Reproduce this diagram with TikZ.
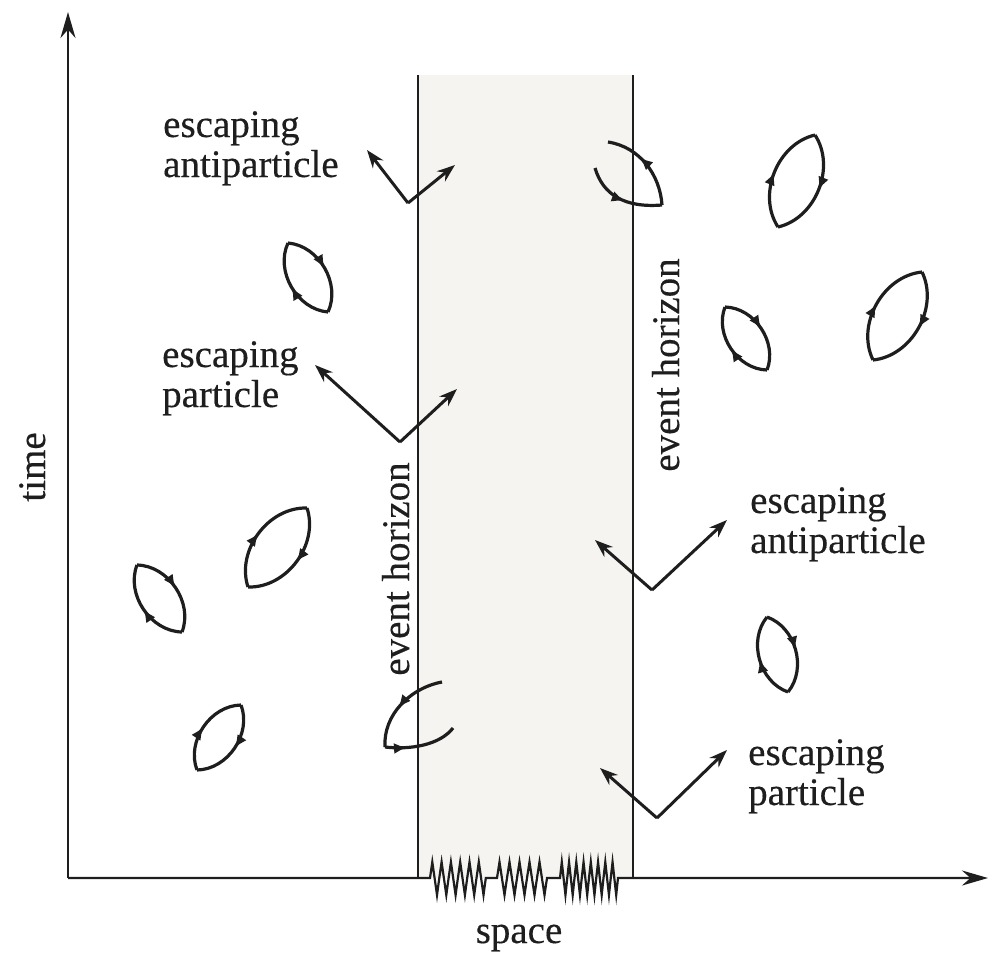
\documentclass[tikz,border=0pt]{standalone}
\usepackage{fontspec}
\setmainfont{Liberation Serif}[FakeBold=0.35]
\usetikzlibrary{arrows.meta,decorations.markings}
\definecolor{inkc}{RGB}{30,30,30}
\definecolor{bhfill}{RGB}{246,244,241}
\newcommand\vloop[3][55]{%
  \draw[looparc] (#2) to[bend left=#1] (#3);
  \draw[looparc] (#3) to[bend left=#1] (#2);}
\begin{document}
\begin{tikzpicture}[x=1pt,y=-1pt,
  lbl/.style={font=\fontsize{39}{40}\selectfont, text=inkc, inner sep=0pt},
  axisln/.style={draw=inkc, line width=2.2pt, -{Stealth[length=26pt,width=15pt]}},
  horizonln/.style={draw=inkc, line width=2.1pt},
  pairln/.style={draw=inkc, line width=3pt, -{Stealth[length=18pt,width=13pt]}},
  looparc/.style={draw=inkc, line width=3.2pt, postaction={decorate},
    decoration={markings, mark=at position #1 with {\arrow{Latex[length=13pt,width=11pt]}}}},
  looparc/.default=0.5]
\useasboundingbox (0,0) rectangle (990,954);
% black hole region
\fill[bhfill] (418,75) rectangle (633,878);
\coordinate (hlt) at (418,75);  \coordinate (hlb) at (418,878);
\coordinate (hrt) at (633,75);  \coordinate (hrb) at (633,878);
\draw[horizonln] (hlt) -- (hlb);
\draw[horizonln] (hrt) -- (hrb);
% axes
\coordinate (O) at (68,878);
\coordinate (ytip) at (68,12);
\coordinate (xtip) at (988,878);
\draw[axisln] (O) -- (ytip);
\draw[axisln] (O) -- (430,878)
  \foreach \i in {1,...,6} { -- ++(2.3,-16) -- ++(4.7,33) -- ++(2.3,-17) }
  -- (497,878)
  \foreach \i in {1,...,5} { -- ++(2.5,-16) -- ++(5,33) -- ++(2.5,-17) }
  -- (560,878)
  \foreach \i in {1,...,8} { -- ++(1.8,-16) -- ++(3.65,33) -- ++(1.8,-17) }
  -- (xtip);
% axis labels
\node[lbl, rotate=90, anchor=base] (tlabel) at (45,467) {time};
\node[lbl, anchor=base] (slabel) at (519,943) {space};
\node[lbl, rotate=90, anchor=base] (ehl) at (409,569) {event horizon};
\node[lbl, rotate=90, anchor=base] (ehr) at (679,365) {event horizon};
% escaping pair labels
\node[lbl, anchor=base west] (l1) at (163,137) {\begin{tabular}[t]{@{}l@{}}escaping\\antiparticle\end{tabular}};
\node[lbl, anchor=base west] (l2) at (162,367) {\begin{tabular}[t]{@{}l@{}}escaping\\particle\end{tabular}};
\node[lbl, anchor=base west] (l3) at (750,513) {\begin{tabular}[t]{@{}l@{}}escaping\\antiparticle\end{tabular}};
\node[lbl, anchor=base west] (l4) at (748,765) {\begin{tabular}[t]{@{}l@{}}escaping\\particle\end{tabular}};
% escaping pairs
\coordinate (v1) at (408,203); \coordinate (v1a) at (367,150); \coordinate (v1b) at (455,165);
\coordinate (v2) at (400,442); \coordinate (v2a) at (315,365); \coordinate (v2b) at (457,389);
\coordinate (v3) at (652,590); \coordinate (v3a) at (595,540); \coordinate (v3b) at (727,520);
\coordinate (v4) at (657,818); \coordinate (v4a) at (600,768); \coordinate (v4b) at (727,750);
\foreach \v in {v1,v2,v3,v4} {
  \draw[pairln] (\v) -- (\v a);
  \draw[pairln] (\v) -- (\v b);
}
% closed virtual-pair loops
\vloop{288,243}{328,312}
\vloop{137,565}{182,632}
\vloop{307,508}{248,587}
\vloop{241,705}{197,770}
\vloop{815,135}{778,227}
\vloop{725,307}{767,370}
\vloop{922,272}{873,360}
\vloop{767,617}{788,692}
% loops cut by the horizons
\draw[looparc=0.6] (662,205) .. controls (660,175) and (640,147) .. (608,142);
\draw[looparc=0.55] (595,168) .. controls (603,195) and (625,208) .. (662,205);
\draw[looparc=0.55] (442,682) .. controls (410,688) and (383,715) .. (385,747);
\draw[looparc=0.3] (385,747) .. controls (410,750) and (440,745) .. (453,728);
\end{tikzpicture}
\end{document}
